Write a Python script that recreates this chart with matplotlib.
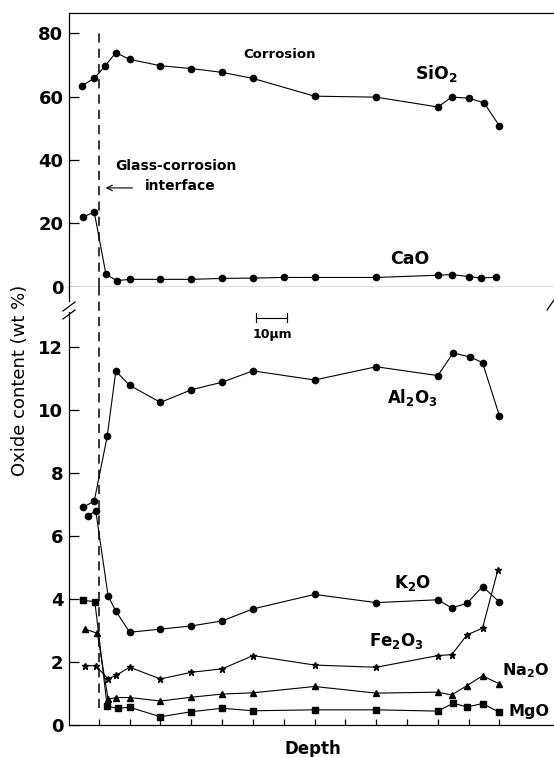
import matplotlib
matplotlib.use('Agg')
import matplotlib.pyplot as plt
from matplotlib.lines import Line2D

# Oxide profiles across a glass-corrosion interface
# depth in um, 0 = interface (dashed line)

sio2_x = [-5.5, -1.5, 2, 5.5, 10, 20, 30, 40, 50, 70, 90, 110, 114.5, 120, 125, 130]
sio2_y = [63.4, 65.7, 69.6, 73.8, 71.7, 69.7, 68.8, 67.6, 65.7, 60.1, 59.8, 56.7, 59.8, 59.5, 58.0, 50.7]

cao_x = [-5, -1.5, 2.3, 5.8, 10, 20, 30, 40, 50, 60, 70, 90, 110, 114.5, 120, 124, 129]
cao_y = [22.1, 23.6, 4.0, 2.0, 2.4, 2.4, 2.4, 2.7, 2.8, 3.0, 3.0, 3.0, 3.7, 3.9, 3.3, 2.8, 3.1]

al2o3_x = [-5, -1.5, 2.7, 5.5, 10, 20, 30, 40, 50, 70, 90, 110, 115, 120.5, 124.5, 130]
al2o3_y = [6.92, 7.11, 9.16, 11.23, 10.78, 10.24, 10.64, 10.88, 11.24, 10.95, 11.37, 11.09, 11.81, 11.68, 11.5, 9.81]

k2o_x = [-3.5, -1, 3, 5.5, 10, 20, 30, 40, 50, 70, 90, 110, 114.5, 119.5, 124.5, 130]
k2o_y = [6.65, 6.80, 4.10, 3.62, 2.95, 3.05, 3.15, 3.31, 3.69, 4.15, 3.89, 3.98, 3.72, 3.87, 4.40, 3.91]

fe2o3_x = [-4.5, -1, 3, 5.5, 10, 20, 30, 40, 50, 70, 90, 110, 114.5, 119.5, 124.5, 129.5]
fe2o3_y = [1.89, 1.89, 1.47, 1.58, 1.84, 1.47, 1.68, 1.79, 2.21, 1.91, 1.84, 2.21, 2.24, 2.87, 3.08, 4.93]

na2o_x = [-4.5, -0.5, 3, 5.7, 10, 20, 30, 40, 50, 70, 90, 110, 114.5, 119.5, 124.5, 130]
na2o_y = [3.05, 2.92, 0.83, 0.88, 0.88, 0.77, 0.89, 0.99, 1.03, 1.23, 1.02, 1.05, 0.96, 1.26, 1.57, 1.31]

mgo_x = [-5, -1.3, 2.7, 6.2, 10, 20, 30, 40, 50, 70, 90, 110, 115, 119.5, 124.5, 130]
mgo_y = [3.96, 3.92, 0.60, 0.54, 0.57, 0.27, 0.43, 0.54, 0.46, 0.49, 0.49, 0.45, 0.70, 0.58, 0.69, 0.41]

W, H = 554, 757
LW = 0.8
BOLD = dict(fontweight='bold', family='DejaVu Sans')

plt.rcParams['mathtext.default'] = 'regular'


def px(x, y):
    # pixel position -> figure fraction
    return x / W, 1 - y / H


def series(ax, x, y, marker, ms):
    ax.plot(x, y, color='k', lw=LW, marker=marker, ms=ms, mec='k', mfc='k')


def style(ax):
    ax.set_xlim(-9.7, 147.7)
    ax.set_xticks(range(0, 140, 10))
    ax.set_xticklabels([])
    ax.spines['right'].set_visible(False)
    for s in ax.spines.values():
        s.set_linewidth(0.9)
    ax.tick_params(axis='y', direction='in', length=7, width=0.9, pad=4,
                   labelsize=13)
    for lab in ax.get_yticklabels():
        lab.set_fontweight('bold')


fig = plt.figure(figsize=(W / 100, H / 100), dpi=100)

top = fig.add_axes([0.1245, 0.6209, 0.8755, 0.3619])
bot = fig.add_axes([0.1245, 0.0419, 0.8755, 0.5790])

# upper part: SiO2 and CaO
series(top, sio2_x, sio2_y, 'o', 4.5)
series(top, cao_x, cao_y, 'o', 4.5)
top.set_ylim(0, 86.3)
top.set_yticks([0, 20, 40, 60, 80])
style(top)
top.tick_params(axis='x', direction='out', length=4, width=0.9)
top.axvline(0, ymin=0, ymax=0.937, color='k', lw=1.1, ls=(0, (6, 4)))

top.text(58.5, 73.1, 'Corrosion', ha='center', va='center', fontsize=9.5, **BOLD)
top.text(102.6, 67.4, 'SiO$_2$', ha='left', va='center', fontsize=12.5, **BOLD)
top.text(94.4, 8.8, 'CaO', ha='left', va='center', fontsize=12.5, **BOLD)
top.text(5.2, 38.1, 'Glass-corrosion', ha='left', va='center', fontsize=10, **BOLD)
top.text(15, 31.8, 'interface', ha='left', va='center', fontsize=10, **BOLD)
top.annotate('', xy=(1.3, 31.2), xytext=(11.8, 31.2),
             arrowprops=dict(arrowstyle='->', color='k', lw=0.8))

# lower part: minor oxides
series(bot, al2o3_x, al2o3_y, 'o', 4.5)
series(bot, k2o_x, k2o_y, 'o', 4.5)
series(bot, fe2o3_x, fe2o3_y, '*', 5)
series(bot, na2o_x, na2o_y, '^', 5)
series(bot, mgo_x, mgo_y, 's', 4.5)
bot.set_ylim(0, 13.9)
bot.set_yticks(range(0, 13, 2))
style(bot)
bot.spines['top'].set_visible(False)
bot.tick_params(axis='x', direction='in', length=4, width=0.9)
bot.axvline(0, ymin=0.04, ymax=1, color='k', lw=1.1, ls=(0, (6, 4)))

# 10 um scale bar
bot.plot([51, 61], [12.93, 12.93], color='k', lw=0.8)
bot.plot([51, 51], [12.8, 13.06], color='k', lw=0.8)
bot.plot([61, 61], [12.8, 13.06], color='k', lw=0.8)
bot.text(56.2, 12.39, '10\u03bcm', ha='center', va='center', fontsize=9, **BOLD)

bot.text(93.5, 10.38, 'Al$_2$O$_3$', ha='left', va='center', fontsize=12, **BOLD)
bot.text(95.8, 4.52, 'K$_2$O', ha='left', va='center', fontsize=12, **BOLD)
bot.text(87.6, 2.68, 'Fe$_2$O$_3$', ha='left', va='center', fontsize=12, **BOLD)
bot.text(146.3, 1.72, 'Na$_2$O', ha='right', va='center', fontsize=11.5, **BOLD)
bot.text(146.3, 0.45, 'MgO', ha='right', va='center', fontsize=11.5, **BOLD)

# axis break on the left spine
bot.spines['left'].set_bounds(0, 13.1)
bot.plot([0, 0], [13.45, 13.9], transform=bot.get_yaxis_transform(),
         color='k', lw=0.9, clip_on=False)
for y0 in (311, 319):
    x1, y1 = px(63, y0)
    x2, y2 = px(75, y0 - 9)
    fig.add_artist(Line2D([x1, x2], [y1, y2], color='k', lw=0.9))
x1, y1 = px(547, 310)
x2, y2 = px(554, 300)
fig.add_artist(Line2D([x1, x2], [y1, y2], color='k', lw=0.9))

fig.text(*px(313, 749), 'Depth', ha='center', va='center', fontsize=12, **BOLD)
fig.text(*px(20, 380), 'Oxide content (wt %)', rotation=90, ha='center',
         va='center', fontsize=13)

fig.savefig('out.png', dpi=100)
